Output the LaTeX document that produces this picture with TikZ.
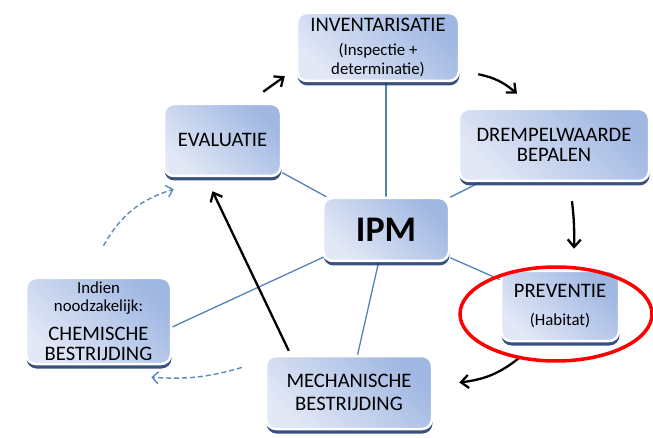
\documentclass[tikz,border=0pt]{standalone}
\usepackage{fontspec}
\setmainfont{Carlito}
\usetikzlibrary{arrows.meta,shadows,backgrounds,bending}

\definecolor{boxlight}{RGB}{226,232,246}
\definecolor{boxdark}{RGB}{160,183,226}
\definecolor{shadowblue}{RGB}{34,62,112}
\definecolor{spoke}{RGB}{84,130,182}
\definecolor{dashblue}{RGB}{88,138,198}

\newcommand{\grtxt}{\fontsize{20.6}{22}\selectfont}
\newcommand{\kltxt}{\fontsize{16.8}{19}\selectfont}

\tikzset{
  blok/.style={rectangle, rounded corners=10pt, draw=white, line width=2.5pt,
    top color=boxdark, bottom color=boxlight, shading angle=-45,
    drop shadow={shadow xshift=0.5pt, shadow yshift=-4.5pt, fill=shadowblue, opacity=0.9},
    align=center, font=\grtxt, inner sep=2pt},
  spaak/.style={spoke, line width=1.3pt},
  pijl/.style={-{Straight Barb[length=7.5pt,width=13pt]}, line width=2.3pt, black},
  stippel/.style={-{Straight Barb[length=6pt,width=12pt]}, dashblue, dash pattern=on 5pt off 3pt, line width=1.4pt},
}

\begin{document}
\begin{tikzpicture}[x=1pt, y=-1pt]
    \useasboundingbox (0,0) rectangle (653,438);

    % Boxes
    \node[blok, minimum width=162pt, minimum height=68pt] (inv) at (378,47)
        {INVENTARISATIE\\[2pt]\kltxt (Inspectie +\\[-3pt]\kltxt determinatie)};
    \node[blok, minimum width=117pt, minimum height=72pt] (eval) at (222.5,140) {EVALUATIE};
    \node[blok, minimum width=190pt, minimum height=72pt] (drem) at (554,145)
        {DREMPELWAARDE\\[-2pt]BEPALEN};
    \node[blok, minimum width=126pt, minimum height=63pt, font=\fontsize{36}{40}\selectfont\bfseries] (ipm) at (386,229.5) {IPM};
    \node[blok, minimum width=145pt, minimum height=86pt] (chem) at (98.5,321)
        {\kltxt Indien\\[-4pt]\kltxt noodzakelijk:\\[7pt]CHEMISCHE\\[-2pt]BESTRIJDING};
    \node[blok, minimum width=118pt, minimum height=70pt] (prev) at (560,306)
        {PREVENTIE\\[6pt]\kltxt (Habitat)};
    \node[blok, minimum width=166pt, minimum height=73pt] (mech) at (349,392.5)
        {MECHANISCHE\\[1pt]BESTRIJDING};

    % Spokes
    \begin{scope}[on background layer]
        \draw[spaak] (ipm) -- (ipm |- inv.south);
        \foreach \n in {eval,drem,prev,mech}
            \draw[spaak] (ipm) -- (\n);
        \draw[spaak] ([shift={(8,-8)}]ipm.south west) -- ([yshift=-6pt]chem.east);
    \end{scope}

    % Cycle
    \draw[pijl] ([shift={(-19,-11)}]eval.north east) -- ([shift={(-11,-6)}]inv.south west);
    \draw[pijl] ([shift={(18,-8)}]inv.south east) to[bend left=15] ([shift={(-37,-14)}]drem.north);
    \draw[pijl] ([shift={(18,19)}]drem.south) to[bend left=4] ([shift={(14,-21)}]prev.north);
    \draw[pijl] ([shift={(19,16)}]prev.south west) to[bend left=16] ([shift={(26,-10)}]mech.east);
    \draw[pijl] ([shift={(24,-4)}]mech.north west) -- ([shift={(-10,14)}]eval.south);

    % Optional route
    \draw[stippel] ([shift={(-23,-25)}]mech.west) to[bend left=10] ([shift={(-21,12)}]chem.south east);
    \draw[stippel] ([shift={(5,-31)}]chem.north) to[bend left=22] ([shift={(11,12)}]eval.south west);

    % Highlight
    \draw[red, line width=3.5pt] ([shift={(-4,8)}]prev.center) ellipse [x radius=96pt, y radius=47pt];
\end{tikzpicture}
\end{document}
